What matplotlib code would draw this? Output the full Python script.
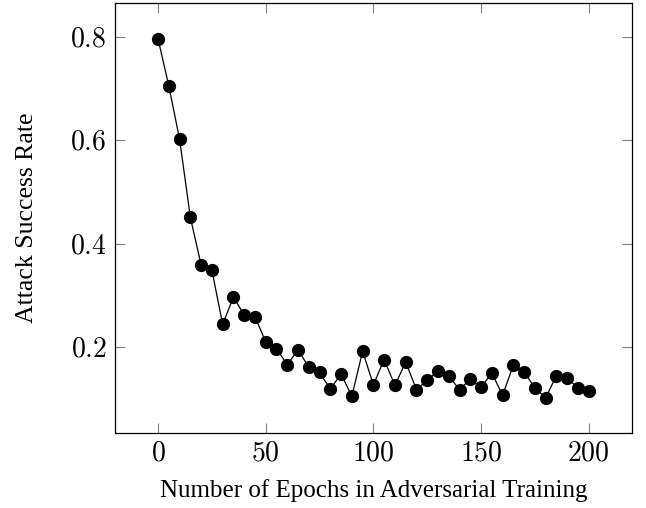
import matplotlib.pyplot as plt
import matplotlib.ticker as mticker

plt.rcParams['font.family'] = ['Liberation Serif', 'DejaVu Serif']
plt.rcParams['mathtext.fontset'] = 'cm'

# Attack success rate per epoch count
epochs = list(range(0, 201, 5))
success_rate = [
    0.796, 0.705, 0.602, 0.451, 0.359, 0.349, 0.244, 0.297, 0.262, 0.259,
    0.210, 0.197, 0.166, 0.195, 0.161, 0.151, 0.119, 0.148, 0.105, 0.192,
    0.127, 0.176, 0.126, 0.171, 0.118, 0.136, 0.154, 0.144, 0.118, 0.138,
    0.122, 0.150, 0.107, 0.165, 0.152, 0.121, 0.102, 0.145, 0.141, 0.120,
    0.115,
]

fig = plt.figure(figsize=(6.46, 5.08), dpi=100)
ax = fig.add_axes([0.178, 0.147, 0.800, 0.847])

ax.plot(epochs, success_rate, color='black', linewidth=0.9,
        marker='o', markersize=8.5)

ax.set_xlim(-20, 220)
ax.set_ylim(0.0333, 0.8654)
ax.set_xticks([0, 50, 100, 150, 200])
ax.set_yticks([0.2, 0.4, 0.6, 0.8])
ax.xaxis.set_major_formatter(mticker.FuncFormatter(lambda v, p: f'${v:.0f}$'))
ax.yaxis.set_major_formatter(mticker.FuncFormatter(lambda v, p: f'${v:.1f}$'))
ax.tick_params(direction='in', length=7, width=0.8, color='#808080',
               top=True, right=True, labelsize=20, pad=6)
for s in ax.spines.values():
    s.set_linewidth(0.9)

ax.set_xlabel('Number of Epochs in Adversarial Training', fontsize=18, labelpad=9)
ax.set_ylabel('Attack Success Rate', fontsize=18.5, labelpad=23)

fig.savefig('out.png', dpi=100)
